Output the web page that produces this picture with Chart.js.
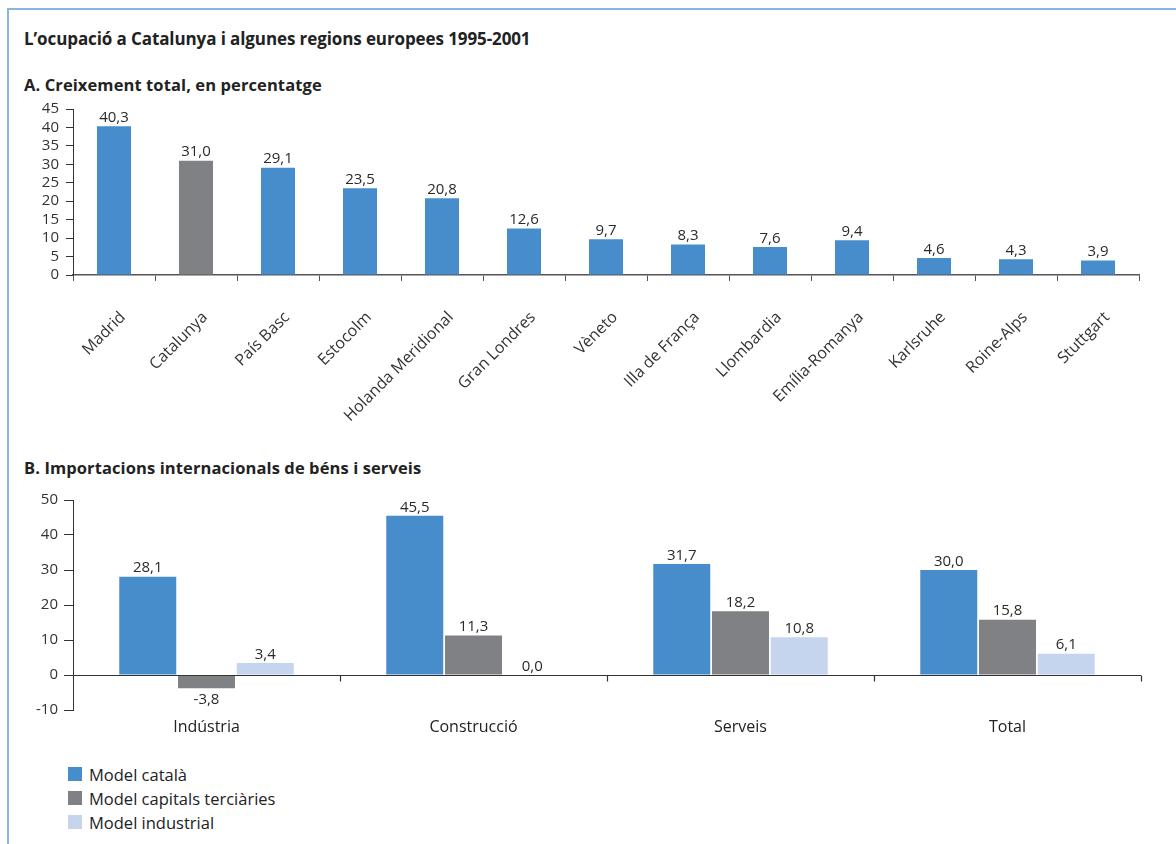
<!DOCTYPE html>
<html>
<head>
<meta charset="utf-8">
<script src="https://cdn.jsdelivr.net/npm/chart.js@4.4.0/dist/chart.umd.min.js"></script>
<style>
  html, body { margin: 0; padding: 0; background: #fff; }
  body { width: 1176px; height: 844px; position: relative; overflow: hidden; font-family: "Open Sans", sans-serif; color: #222; }
  .frame { position: absolute; left: 7px; top: 8px; right: -4px; bottom: -4px; border-left: 2px solid #8cb4e0; border-top: 2px solid #8cb4e0; }
  .title { position: absolute; left: 24px; top: 27px; font-size: 17px; font-weight: 700; letter-spacing: -0.1px; }
  .sub { position: absolute; left: 24px; font-size: 16.5px; font-weight: 700; letter-spacing: 0.1px; }
  .box { position: absolute; left: 0; width: 1176px; }
  .legend { position: absolute; left: 68px; top: 762px; font-size: 16.5px; }
  .legend div { height: 24px; display: flex; align-items: center; }
  .legend span { display: inline-block; width: 14px; height: 14px; margin-right: 7px; }
</style>
</head>
<body>
<div class="frame"></div>
<div class="title">L’ocupació a Catalunya i algunes regions europees 1995-2001</div>
<div class="sub" style="top:73px">A. Creixement total, en percentatge</div>
<div class="box" style="top:93px;height:347px"><canvas id="chartA"></canvas></div>
<div class="sub" style="top:456px">B. Importacions internacionals de béns i serveis</div>
<div class="box" style="top:485px;height:260px"><canvas id="chartB"></canvas></div>
<div class="legend" id="legend"></div>

<script>
// ---- dades ----
const regionsA = ['Madrid', 'Catalunya', 'País Basc', 'Estocolm', 'Holanda Meridional', 'Gran Londres',
  'Vèneto', 'Illa de França', 'Llombardia', 'Emília-Romanya', 'Karlsruhe', 'Roine-Alps', 'Stuttgart'];
const growthA = [40.3, 31.0, 29.1, 23.5, 20.8, 12.6, 9.7, 8.3, 7.6, 9.4, 4.6, 4.3, 3.9];
const yTicksA = [0, 5, 10, 15, 20, 25, 30, 35, 40, 45];

const sectorsB = ['Indústria', 'Construcció', 'Serveis', 'Total'];
const modelNames = ['Model català', 'Model capitals terciàries', 'Model industrial'];
const modelCatala = [28.1, 45.5, 31.7, 30.0];
const modelCapitals = [-3.8, 11.3, 18.2, 15.8];
const modelIndustrial = [3.4, 0.0, 10.8, 6.1];
const yTicksB = [-10, 0, 10, 20, 30, 40, 50];

const BLUE = '#478dcb', GREY = '#808184', LIGHT = '#c5d5ee';
const FONT = '"Open Sans", sans-serif';
const fmt = v => v.toFixed(1).replace('.', ',');

// etiquetes de valor sobre les barres
const valueLabels = {
  id: 'valueLabels',
  afterDatasetsDraw(chart) {
    const ctx = chart.ctx;
    ctx.save();
    ctx.font = '15px ' + FONT;
    ctx.fillStyle = '#2a2a2a';
    ctx.textAlign = 'center';
    chart.data.datasets.forEach((ds, i) => {
      chart.getDatasetMeta(i).data.forEach((bar, j) => {
        const v = ds.data[j];
        if (v < 0) {
          ctx.textBaseline = 'top';
          ctx.fillText(fmt(v), bar.x, bar.y + 4);
        } else {
          ctx.textBaseline = 'bottom';
          ctx.fillText(fmt(v), bar.x, bar.y - 1);
        }
      });
    });
    ctx.restore();
  }
};

// línia del zero amb marques entre categories (gràfic B)
const zeroLine = {
  id: 'zeroLine',
  afterDatasetsDraw(chart) {
    const { ctx, chartArea, scales } = chart;
    const y0 = Math.round(scales.y.getPixelForValue(0)) + 0.5;
    const n = chart.data.labels.length;
    const w = (chartArea.right - chartArea.left) / n;
    ctx.save();
    ctx.strokeStyle = '#333';
    ctx.lineWidth = 1.2;
    ctx.beginPath();
    ctx.moveTo(chartArea.left, y0);
    ctx.lineTo(chartArea.right, y0);
    for (let i = 1; i <= n; i++) {
      const x = Math.round(chartArea.left + i * w) + 0.5;
      ctx.moveTo(x, y0);
      ctx.lineTo(x, y0 + 6);
    }
    ctx.stroke();
    ctx.restore();
  }
};

// ---- gràfic A ----
new Chart(document.getElementById('chartA'), {
  type: 'bar',
  data: {
    labels: regionsA,
    datasets: [{
      data: growthA,
      backgroundColor: regionsA.map(r => r === 'Catalunya' ? GREY : BLUE),
      categoryPercentage: 1,
      barPercentage: 0.415
    }]
  },
  plugins: [valueLabels],
  options: {
    responsive: true,
    maintainAspectRatio: false,
    animation: false,
    layout: { padding: { left: 0, right: 37, top: 14, bottom: 0 } },
    plugins: { legend: { display: false }, tooltip: { enabled: false } },
    scales: {
      x: {
        grid: { drawOnChartArea: false, offset: true, tickLength: 6, color: '#555' },
        border: { color: '#555', width: 1.5 },
        ticks: { color: '#333', font: { family: FONT, size: 16 }, maxRotation: 45, minRotation: 45, padding: 27, labelOffset: 9, autoSkip: false },
        afterFit: s => { s.height = 165; }
      },
      y: {
        min: yTicksA[0],
        max: yTicksA[yTicksA.length - 1],
        afterBuildTicks: s => { s.ticks = yTicksA.map(v => ({ value: v })); },
        grid: { drawOnChartArea: false, tickLength: 7, color: '#333' },
        border: { color: '#333', width: 1 },
        ticks: { color: '#333', font: { family: FONT, size: 15 }, padding: 7, autoSkip: false },
        afterFit: s => { s.width = 73; }
      }
    }
  }
});

// ---- gràfic B ----
const seriesB = [modelCatala, modelCapitals, modelIndustrial];
const coloursB = [BLUE, GREY, LIGHT];
new Chart(document.getElementById('chartB'), {
  type: 'bar',
  data: {
    labels: sectorsB,
    datasets: seriesB.map((d, i) => ({
      label: modelNames[i],
      data: d,
      backgroundColor: coloursB[i],
      categoryPercentage: 0.66,
      barPercentage: 0.97
    }))
  },
  plugins: [valueLabels, zeroLine],
  options: {
    responsive: true,
    maintainAspectRatio: false,
    animation: false,
    layout: { padding: { left: 0, right: 35, top: 14, bottom: 0 } },
    plugins: { legend: { display: false }, tooltip: { enabled: false } },
    scales: {
      x: {
        grid: { display: false, drawTicks: false },
        border: { display: false },
        ticks: { color: '#222', font: { family: FONT, size: 16 }, padding: 8 },
        afterFit: s => { s.height = 35; }
      },
      y: {
        min: yTicksB[0],
        max: yTicksB[yTicksB.length - 1],
        afterBuildTicks: s => { s.ticks = yTicksB.map(v => ({ value: v })); },
        grid: { drawOnChartArea: false, tickLength: 9, color: '#333' },
        border: { color: '#333', width: 1 },
        ticks: { color: '#333', font: { family: FONT, size: 15 }, padding: 6, autoSkip: false },
        afterFit: s => { s.width = 73; }
      }
    }
  }
});

// llegenda
document.getElementById('legend').innerHTML = modelNames
  .map((m, i) => `<div><span style="background:${coloursB[i]}"></span>${m}</div>`).join('');
</script>
</body>
</html>
